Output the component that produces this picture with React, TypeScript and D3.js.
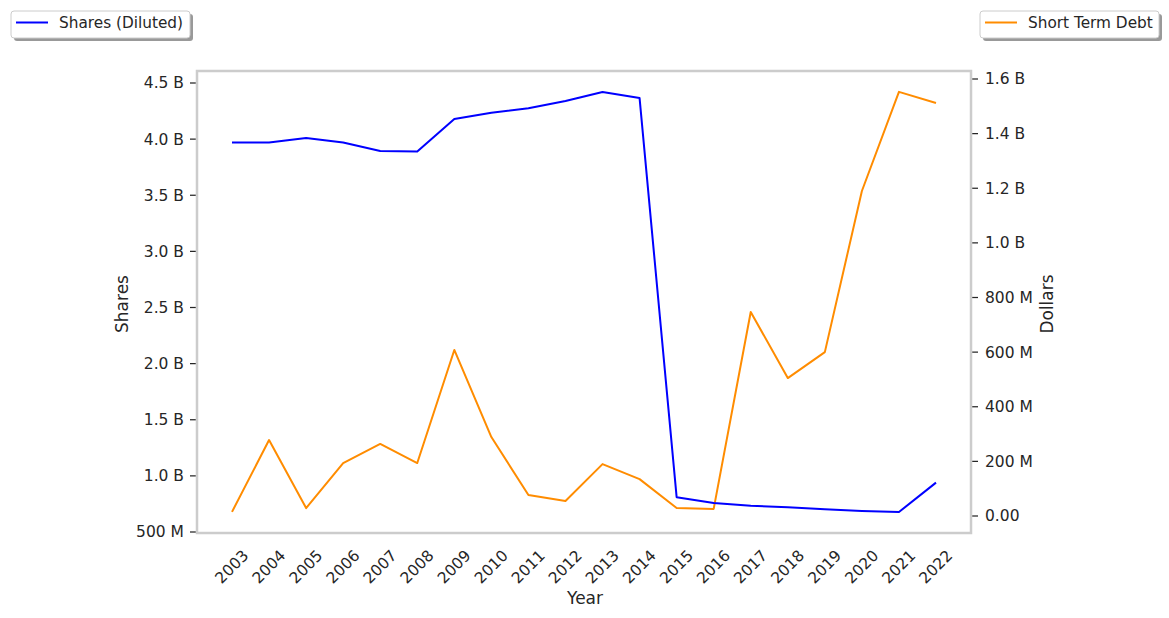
import React from "react";
import * as d3 from "d3";

const years = [2003,2004,2005,2006,2007,2008,2009,2010,2011,2012,2013,2014,2015,2016,2017,2018,2019,2020,2021,2022];
const sharesDiluted = [3.97e9,3.97e9,4.01e9,3.97e9,3.895e9,3.89e9,4.18e9,4.235e9,4.275e9,4.34e9,4.42e9,4.366e9,0.81e9,0.758e9,0.733e9,0.72e9,0.703e9,0.687e9,0.678e9,0.94e9];
const shortTermDebt = [0.015e9,0.278e9,0.029e9,0.194e9,0.264e9,0.194e9,0.608e9,0.289e9,0.077e9,0.055e9,0.19e9,0.135e9,0.029e9,0.026e9,0.747e9,0.505e9,0.6e9,1.19e9,1.553e9,1.512e9];
const leftTicks = [0.5e9,1.0e9,1.5e9,2.0e9,2.5e9,3.0e9,3.5e9,4.0e9,4.5e9];
const leftTickLabels = ["500 M","1.0 B","1.5 B","2.0 B","2.5 B","3.0 B","3.5 B","4.0 B","4.5 B"];
const rightTicks = [0,0.2e9,0.4e9,0.6e9,0.8e9,1.0e9,1.2e9,1.4e9,1.6e9];
const rightTickLabels = ["0.00","200 M","400 M","600 M","800 M","1.0 B","1.2 B","1.4 B","1.6 B"];

const W = 1169, H = 618;
const L = 197, R = 971, T = 71, B = 533;
const txt = "#262626";
const font = "DejaVu Sans, sans-serif";

export default function App() {
  const x = d3.scaleLinear().domain([2003, 2022]).range([232, 936]);
  const yL = d3.scaleLinear().domain([0.5e9, 4.5e9]).range([532, 83]);
  const yR = d3.scaleLinear().domain([0, 1.6e9]).range([516, 79]);
  const lineL = d3.line<number>().x((_, i) => x(years[i])).y((d) => yL(d));
  const lineR = d3.line<number>().x((_, i) => x(years[i])).y((d) => yR(d));

  return (
    <svg width={W} height={H} style={{ position: "absolute", left: 0, top: 0, background: "#fff" }} fontFamily={font}>
      <rect x={0} y={0} width={W} height={H} fill="#fff" />
      <path d={lineR(shortTermDebt) || ""} fill="none" stroke="#ff8c00" strokeWidth={2} strokeLinejoin="round" />
      <path d={lineL(sharesDiluted) || ""} fill="none" stroke="#0000ff" strokeWidth={2} strokeLinejoin="round" />
      <rect x={L} y={T} width={R - L} height={B - T} fill="none" stroke="#cccccc" strokeWidth={2.5} />
      {leftTicks.map((t, i) => (
        <g key={"l" + i}>
          <line x1={L - 1.25} x2={L - 7} y1={yL(t)} y2={yL(t)} stroke={txt} strokeWidth={1.25} />
          <text x={L - 13} y={yL(t)} dy="0.35em" textAnchor="end" fontSize={15.5} fill={txt}>{leftTickLabels[i]}</text>
        </g>
      ))}
      {rightTicks.map((t, i) => (
        <g key={"r" + i}>
          <line x1={R + 1.25} x2={R + 7} y1={yR(t)} y2={yR(t)} stroke={txt} strokeWidth={1.25} />
          <text x={R + 14} y={yR(t)} dy="0.35em" textAnchor="start" fontSize={15.5} fill={txt}>{rightTickLabels[i]}</text>
        </g>
      ))}
      {years.map((yr) => (
        <text key={yr} transform={`translate(${x(yr)},567) rotate(-45)`} textAnchor="middle" dominantBaseline="central" fontSize={15.5} fill={txt}>{yr}</text>
      ))}
      <text transform="translate(128,304) rotate(-90)" textAnchor="middle" fontSize={17} fill={txt}>Shares</text>
      <text transform="translate(1053,304) rotate(-90)" textAnchor="middle" fontSize={17} fill={txt}>Dollars</text>
      <text x={585} y={604} textAnchor="middle" fontSize={17} fill={txt}>Year</text>

      <rect x={14} y={14} width={179} height={27} rx={3} fill="#999" />
      <rect x={11} y={11} width={179} height={27} rx={3} fill="#fff" stroke="#cccccc" strokeWidth={1} />
      <line x1={16} x2={48} y1={22.5} y2={22.5} stroke="#0000ff" strokeWidth={2} />
      <text x={59} y={23} dy="0.35em" fontSize={15.3} fill={txt}>Shares (Diluted)</text>

      <rect x={983} y={14} width={179} height={27} rx={3} fill="#999" />
      <rect x={980} y={11} width={179} height={27} rx={3} fill="#fff" stroke="#cccccc" strokeWidth={1} />
      <line x1={985} x2={1017} y1={22.5} y2={22.5} stroke="#ff8c00" strokeWidth={2} />
      <text x={1028} y={23} dy="0.35em" fontSize={15.3} fill={txt}>Short Term Debt</text>
    </svg>
  );
}
